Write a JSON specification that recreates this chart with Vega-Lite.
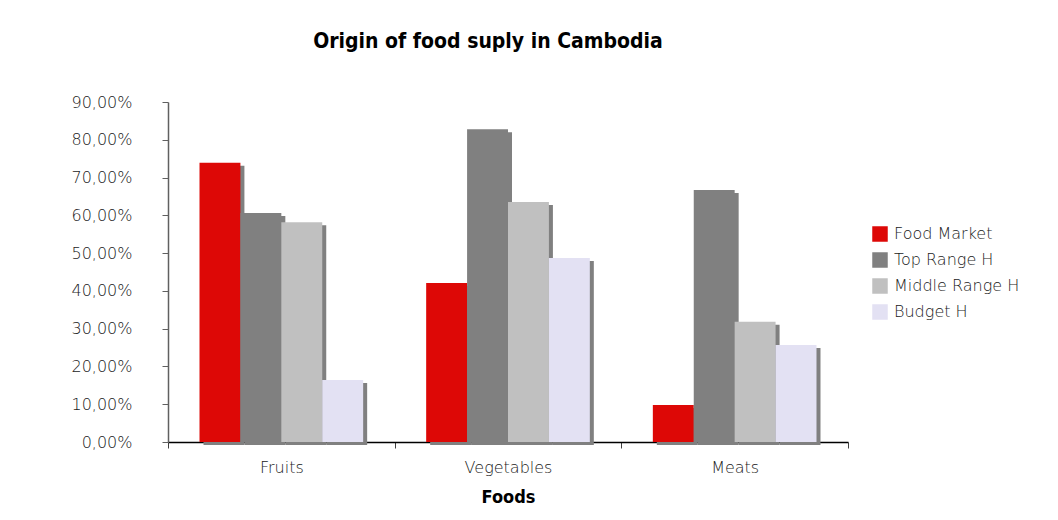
{
  "$schema": "https://vega.github.io/schema/vega-lite/v6.json",
  "width": 680,
  "height": 340,
  "autosize": "none",
  "padding": {"left": 168, "top": 102, "right": 210, "bottom": 78},
  "background": "white",
  "title": {
    "text": "Origin of food suply in Cambodia",
    "font": "DejaVu Sans Condensed",
    "fontSize": 21,
    "fontWeight": "bold",
    "color": "black",
    "anchor": "middle",
    "dx": -20,
    "offset": 42
  },
  "data": {
    "values": [
      {"food": "Fruits", "source": "Food Market", "value": 0.739},
      {"food": "Fruits", "source": "Top Range H", "value": 0.606},
      {"food": "Fruits", "source": "Middle Range H", "value": 0.582},
      {"food": "Fruits", "source": "Budget H", "value": 0.164},
      {"food": "Vegetables", "source": "Food Market", "value": 0.421},
      {"food": "Vegetables", "source": "Top Range H", "value": 0.828},
      {"food": "Vegetables", "source": "Middle Range H", "value": 0.635},
      {"food": "Vegetables", "source": "Budget H", "value": 0.487},
      {"food": "Meats", "source": "Food Market", "value": 0.098},
      {"food": "Meats", "source": "Top Range H", "value": 0.667},
      {"food": "Meats", "source": "Middle Range H", "value": 0.318},
      {"food": "Meats", "source": "Budget H", "value": 0.257}
    ]
  },
  "encoding": {
    "x": {
      "field": "food",
      "type": "nominal",
      "sort": ["Fruits", "Vegetables", "Meats"],
      "scale": {"paddingInner": 0, "paddingOuter": 0},
      "axis": {
        "title": "Foods",
        "titleFont": "DejaVu Sans Condensed",
        "titleFontSize": 18,
        "titleFontWeight": "bold",
        "titleColor": "black",
        "titlePadding": 13,
        "labelAngle": 0,
        "labelFont": "DejaVu Sans",
        "labelFontWeight": 200,
        "labelFontSize": 16,
        "labelColor": "#1a1a1a",
        "labelPadding": 11,
        "tickBand": "extent",
        "tickSize": 6,
        "tickColor": "#404040",
        "domainColor": "black",
        "domainWidth": 1.5
      }
    },
    "y": {
      "field": "value",
      "type": "quantitative",
      "scale": {"domain": [0, 0.9], "nice": false},
      "axis": {
        "title": null,
        "format": ".2%",
        "values": [0, 0.1, 0.2, 0.3, 0.4, 0.5, 0.6, 0.7, 0.8, 0.9],
        "grid": false,
        "labelFont": "DejaVu Sans",
        "labelFontWeight": 200,
        "labelFontSize": 16,
        "labelColor": "#1a1a1a",
        "labelPadding": 30,
        "tickSize": 6,
        "tickColor": "#606060",
        "domainColor": "#606060",
        "domainWidth": 1.5
      }
    }
  },
  "layer": [
    {
      "mark": {"type": "bar", "color": "#808080", "yOffset": 3, "y2Offset": -3},
      "encoding": {
        "xOffset": {
          "field": "source",
          "type": "nominal",
          "sort": ["Food Market", "Top Range H", "Middle Range H", "Budget H"],
          "scale": {"paddingInner": 0, "paddingOuter": 0.77, "align": 0.5635}
        }
      }
    },
    {
      "mark": {"type": "bar"},
      "encoding": {
        "xOffset": {
          "field": "source",
          "type": "nominal",
          "sort": ["Food Market", "Top Range H", "Middle Range H", "Budget H"],
          "scale": {"paddingInner": 0, "paddingOuter": 0.77}
        },
        "color": {
          "field": "source",
          "type": "nominal",
          "scale": {
            "domain": ["Food Market", "Top Range H", "Middle Range H", "Budget H"],
            "range": ["#DD0806", "#808080", "#C0C0C0", "#E3E1F3"]
          },
          "legend": {
            "title": null,
            "orient": "none",
            "legendX": 704,
            "legendY": 124,
            "padding": 0,
            "symbolType": "square",
            "symbolSize": 240,
            "symbolStrokeWidth": 0,
            "labelFont": "DejaVu Sans",
            "labelFontWeight": 200,
            "labelFontSize": 16,
            "labelColor": "#1a1a1a",
            "labelOffset": 6,
            "rowPadding": 10
          }
        }
      }
    }
  ],
  "resolve": {"scale": {"xOffset": "independent"}},
  "config": {
    "view": {"stroke": null},
    "locale": {
      "number": {"decimal": ",", "thousands": ".", "grouping": [3], "currency": ["", " €"]}
    }
  }
}
